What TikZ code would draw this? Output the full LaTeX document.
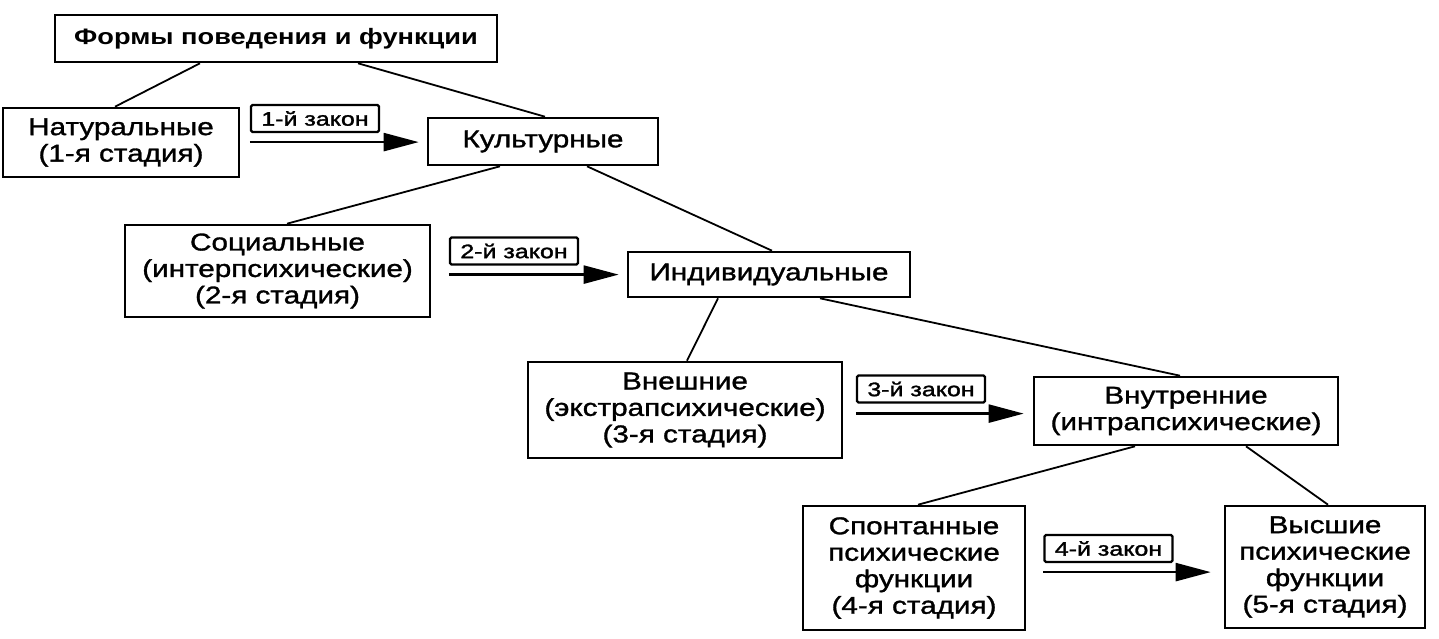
\documentclass[tikz,border=0pt]{standalone}
\usepackage{fontspec}
\setmainfont{Liberation Sans}[FakeStretch=1.22]
\newfontfamily\heavyfont{Liberation Sans}[FakeStretch=1.22,FakeBold=1.3]
\newfontfamily\lawfont{Liberation Sans}[FakeStretch=1.28,FakeBold=1.6]
\usetikzlibrary{arrows.meta,calc}
\begin{document}
\begin{tikzpicture}[x=1pt,y=-1pt,
  box/.style={draw,line width=2.6pt,align=center,inner sep=0pt,font=\heavyfont\fontsize{24.3}{26.5}\selectfont},
  lawbox/.style={draw,line width=2.2pt,rounded corners=1.5pt,align=center,inner sep=0pt,minimum width=128pt,minimum height=27pt,font=\lawfont\fontsize{19.5}{22}\selectfont},
  link/.style={line width=1.8pt},
  arr/.style={line width=2.4pt,-{Triangle[length=35pt,width=18pt]}}]
\useasboundingbox (0,0) rectangle (1439,639);
\fill[white] (0,0) rectangle (1439,639);
% main boxes
\node[box,font=\bfseries\fontsize{22.3}{24}\selectfont,minimum width=442pt,minimum height=47pt] (forms) at (276,38.5) {Формы поведения и функции};
\node[box,minimum width=236pt,minimum height=69pt] (nat) at (121,142.5) {Натуральные\\(1-я стадия)};
\node[box,minimum width=230pt,minimum height=47pt] (kult) at (543,141.5) {Культурные};
\node[box,minimum width=305pt,minimum height=92pt] (soc) at (277.5,271) {Социальные\\(интерпсихические)\\(2-я стадия)};
\node[box,minimum width=282pt,minimum height=45pt] (ind) at (769,274.5) {Индивидуальные};
\node[box,minimum width=314pt,minimum height=96pt] (vnesh) at (685,410) {Внешние\\(экстрапсихические)\\(3-я стадия)};
\node[box,minimum width=304pt,minimum height=68pt] (vnutr) at (1186,411) {Внутренние\\(интрапсихические)};
\node[box,minimum width=222pt,minimum height=124pt] (spont) at (914,568) {Спонтанные\\психические\\функции\\(4-я стадия)};
\node[box,minimum width=200pt,minimum height=122pt] (vys) at (1325,567) {Высшие\\психические\\функции\\(5-я стадия)};
% law labels
\node[lawbox] (l1) at (315,118.5) {1-й закон};
\node[lawbox] (l2) at (514,251) {2-й закон};
\node[lawbox] (l3) at (921,389) {3-й закон};
\node[lawbox] (l4) at (1108.5,548.5) {4-й закон};
% arrows
\draw[arr] ([yshift=-9pt]l1.south west) -- ([yshift=-9pt,xshift=-8pt]l1.south west -| kult.west);
\draw[arr] ([yshift=-9pt]l2.south west) -- ([yshift=-9pt,xshift=-8pt]l2.south west -| ind.west);
\draw[arr] ([yshift=-10pt]l3.south west) -- ([yshift=-10pt,xshift=-9pt]l3.south west -| vnutr.west);
\draw[arr] ([yshift=-9pt]l4.south west) -- ([yshift=-9pt,xshift=-13pt]l4.south west -| vys.west);
% tree links
\draw[link] (forms.south -| 200,0) -- (nat.north -| 115,0);
\draw[link] (forms.south -| 358,0) -- (kult.north -| 545,0);
\draw[link] (kult.south -| 500,0) -- (soc.north -| 287,0);
\draw[link] (kult.south -| 587,0) -- (ind.north -| 772,0);
\draw[link] (ind.south -| 718,0) -- (vnesh.north -| 687,0);
\draw[link] (ind.south -| 820,0) -- (vnutr.north -| 1180,0);
\draw[link] (vnutr.south -| 1135,0) -- (spont.north -| 918,0);
\draw[link] (vnutr.south -| 1246,0) -- (vys.north -| 1328,0);
\end{tikzpicture}
\end{document}
